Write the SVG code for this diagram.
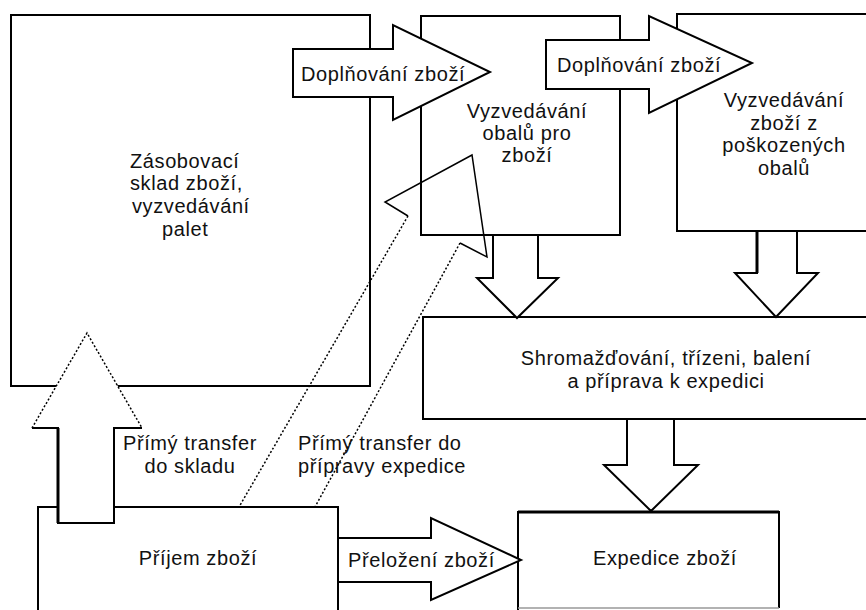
<svg xmlns="http://www.w3.org/2000/svg" width="866" height="610" viewBox="0 0 866 610">
<style>
.box{fill:#fff;stroke:#000;stroke-width:2}
.arr{fill:#fff;stroke:#000;stroke-width:2;stroke-linejoin:miter}
.t{font-family:"Liberation Sans",Arial,sans-serif;font-size:20px;letter-spacing:0.6px;fill:#111}
.m{text-anchor:middle}
.dot{fill:none;stroke:#000;stroke-width:1.5;stroke-dasharray:2 2}
.thin{fill:none;stroke:#000;stroke-width:1.5}
</style>
<rect width="866" height="610" fill="#fff"/>
<g id="node-sklad">
<rect class="box" x="11" y="15" width="359" height="371"/>
<text class="t" x="130" y="168">Zásobovací</text>
<text class="t" x="130" y="190">sklad zboží,</text>
<text class="t" x="132" y="213">vyzvedávání</text>
<text class="t" x="162" y="236">palet</text>
</g>
<g id="node-obaly">
<rect class="box" x="421" y="16" width="199" height="219"/>
<text class="t m" x="527" y="118">Vyzvedávání</text>
<text class="t m" x="527" y="140">obalů pro</text>
<text class="t m" x="527" y="162">zboží</text>
</g>
<g id="node-poskozene">
<rect class="box" x="677" y="14" width="220" height="217"/>
<text class="t m" x="784" y="107">Vyzvedávání</text>
<text class="t m" x="784" y="130">zboží z</text>
<text class="t m" x="784" y="152">poškozených</text>
<text class="t m" x="784" y="175">obalů</text>
</g>
<g id="node-shromazdovani">
<rect class="box" x="423" y="317" width="470" height="102"/>
<text class="t m" x="666" y="365">Shromažďování, třízeni, balení</text>
<text class="t m" x="666" y="388">a příprava k expedici</text>
</g>
<g id="node-prijem">
<rect class="box" x="38" y="507" width="300" height="130"/>
<text class="t m" x="198" y="565">Příjem zboží</text>
</g>
<g id="node-expedice">
<rect x="518" y="512" width="261" height="96" fill="#fff"/>
<path d="M518,620 V512 H779 V608" fill="none" stroke="#000" stroke-width="2"/>
<line x1="518" y1="512" x2="779" y2="512" stroke="#000" stroke-width="3"/>
<line x1="518" y1="608" x2="779" y2="608" stroke="#999" stroke-width="1.5"/>
<text class="t m" x="665" y="565">Expedice zboží</text>
</g>
<g id="connectors">
<g id="arrow-doplnovani-1">
<polygon class="arr" points="293,49 393,49 393,25 490,72 393,120 393,97 293,97"/>
<text class="t" x="301" y="81">Doplňování zboží</text>
</g>
<g id="arrow-doplnovani-2">
<polygon class="arr" points="546,40 649,40 649,16 752,63 649,113 649,89 546,89"/>
<text class="t" x="557" y="72">Doplňování zboží</text>
</g>
<polygon class="arr" points="493,235 538,235 538,278 558,278 517,318 477,278 493,278"/>
<polygon class="arr" points="757,231 797,231 797,273 818,273 776,317 735,273 757,273"/>
<line x1="757" y1="231" x2="757" y2="273" stroke="#000" stroke-width="3"/>
<polygon class="arr" points="627,419 674,419 674,465 698,465 651,511 604,465 627,465"/>
<g id="arrow-do-skladu">
<polygon points="58,523 114,523 114,428 142,428 87,333 32,428 58,428" fill="#fff"/>
<path d="M32,428 H58 V523 H114 V428 H142" fill="none" stroke="#000" stroke-width="2"/>
<line x1="58" y1="428" x2="58" y2="523" stroke="#000" stroke-width="3"/>
<path class="dot" d="M32,428 L87,333 L142,428"/>
<text class="t m" x="190" y="450">Přímý transfer</text>
<text class="t m" x="190" y="473">do skladu</text>
</g>
<g id="arrow-do-expedice">
<path class="thin" d="M408,216 L385,202 L472,155 L487,257 L460,243"/>
<path class="dot" d="M408,216 L239,507"/>
<path class="dot" d="M460,243 L315,507"/>
<text class="t" x="298" y="450">Přímý transfer do</text>
<text class="t" x="298" y="473">přípravy expedice</text>
</g>
<g id="arrow-prelozeni">
<polygon class="arr" points="338,538 431,538 431,518 521,560 431,600 431,582 338,582"/>
<text class="t" x="348" y="567">Přeložení zboží</text>
</g>
</g>
</svg>
